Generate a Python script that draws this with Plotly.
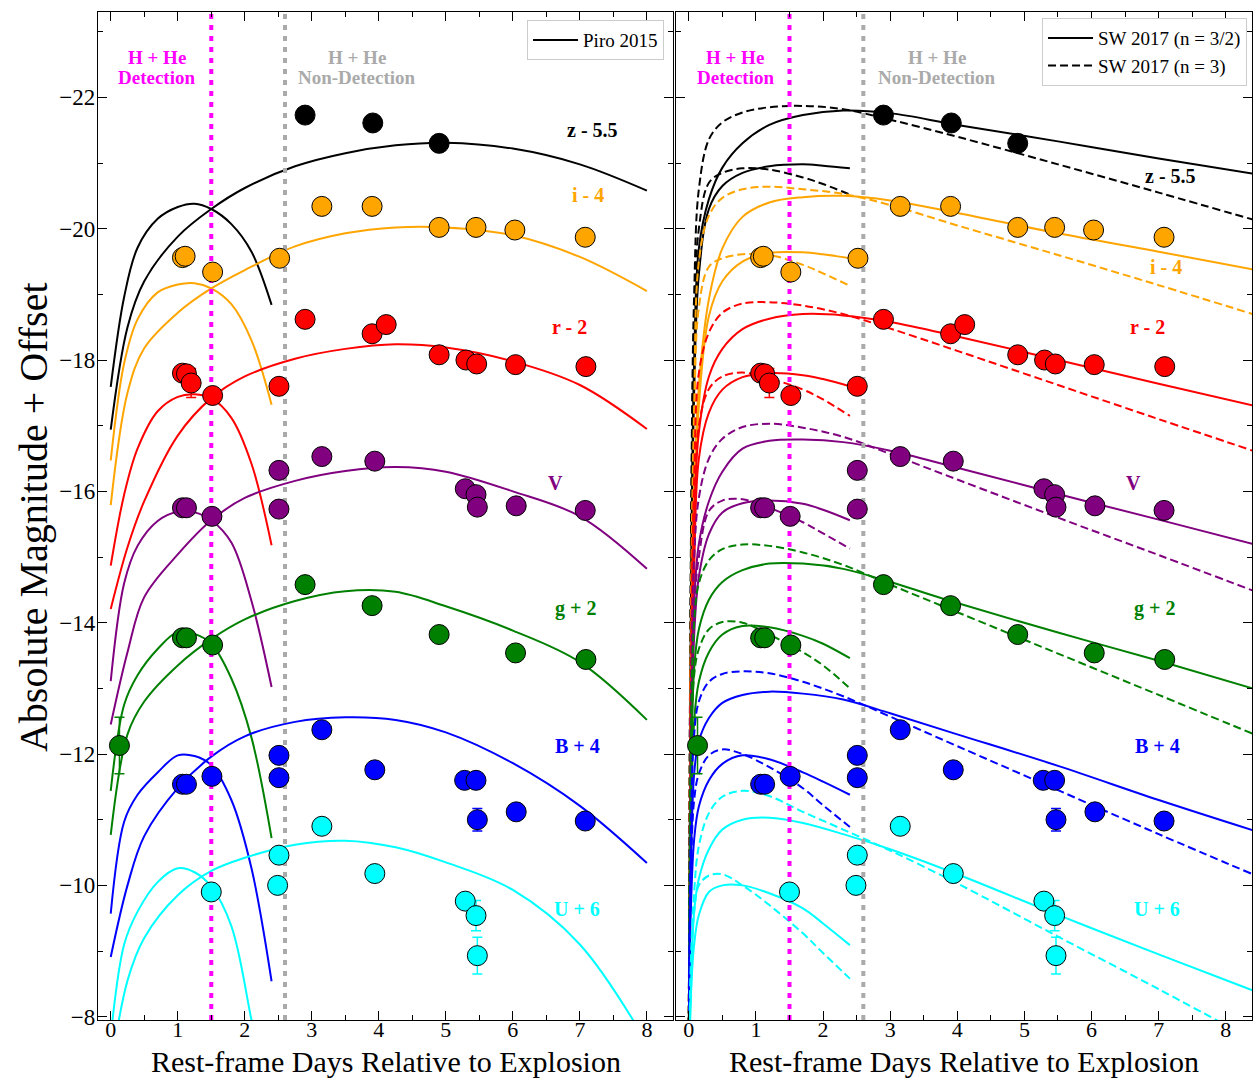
import plotly.graph_objects as go

# ---------------- data: observed photometry (rest-frame days, abs. mag + offset) ----------------
BANDS = ["z", "i", "r", "V", "g", "B", "U"]
COLORS = {"z": "black", "i": "#FFA500", "r": "#FF0000", "V": "#800080",
          "g": "#008000", "B": "#0000FF", "U": "#00FFFF"}
LABELS = {"z": "z - 5.5", "i": "i - 4", "r": "r - 2", "V": "V",
          "g": "g + 2", "B": "B + 4", "U": "U + 6"}

obs_z_t = [2.90, 3.91, 4.90]
obs_z_m = [-21.73, -21.61, -21.30]
obs_z_e = [0, 0, 0]

obs_i_t = [1.07, 1.11, 1.52, 2.52, 3.15, 3.90, 4.90, 5.45, 6.03, 7.08]
obs_i_m = [-19.56, -19.58, -19.34, -19.55, -20.34, -20.34, -20.02, -20.02, -19.98, -19.87]
obs_i_e = [0, 0, 0, 0, 0, 0, 0, 0, 0, 0]

obs_r_t = [1.07, 1.13, 1.20, 1.52, 2.51, 2.90, 3.90, 4.11, 4.90, 5.30, 5.46, 6.04, 7.09]
obs_r_m = [-17.80, -17.79, -17.65, -17.46, -17.60, -18.62, -18.40, -18.54, -18.08, -18.00, -17.94, -17.93, -17.90]
obs_r_e = [0, 0, 0.22, 0, 0, 0, 0, 0, 0, 0, 0, 0, 0]

obs_V_t = [1.07, 1.13, 1.51, 2.51, 2.51, 3.15, 3.94, 5.29, 5.45, 5.47, 6.05, 7.08]
obs_V_m = [-15.75, -15.75, -15.62, -16.32, -15.73, -16.53, -16.46, -16.04, -15.95, -15.76, -15.78, -15.71]
obs_V_e = [0, 0, 0, 0, 0, 0, 0, 0, 0, 0, 0, 0]

obs_g_t = [0.13, 1.07, 1.13, 1.52, 2.90, 3.90, 4.90, 6.04, 7.09]
obs_g_m = [-12.13, -13.77, -13.77, -13.66, -14.58, -14.26, -13.82, -13.54, -13.44]
obs_g_e = [0.43, 0, 0, 0, 0, 0, 0, 0, 0]

obs_B_t = [1.07, 1.13, 1.51, 2.51, 2.51, 3.15, 3.94, 5.28, 5.45, 5.47, 6.05, 7.08]
obs_B_m = [-11.54, -11.54, -11.66, -11.98, -11.64, -12.37, -11.76, -11.60, -11.60, -11.00, -11.12, -10.98]
obs_B_e = [0, 0, 0, 0, 0, 0, 0, 0, 0, 0.17, 0, 0]

obs_U_t = [1.50, 2.51, 2.49, 3.15, 3.94, 5.29, 5.45, 5.47]
obs_U_m = [-9.90, -10.46, -10.00, -10.90, -10.18, -9.76, -9.54, -8.93]
obs_U_e = [0, 0, 0, 0, 0, 0, 0.23, 0.28]

# ---------------- Piro 2015 model curves (left panel) ----------------
PIRO_EARLY_T = [0.0, 0.2, 0.4, 0.7, 1.0, 1.25, 1.5, 1.8, 2.1, 2.4]
piro_early_z = [-17.59, -18.96, -19.71, -20.15, -20.33, -20.38, -20.30, -20.07, -19.65, -18.84]
piro_early_i = [-16.47, -17.95, -18.62, -19.03, -19.15, -19.17, -19.09, -18.85, -18.30, -17.32]
piro_early_r = [-14.87, -15.95, -16.65, -17.22, -17.44, -17.48, -17.42, -17.12, -16.42, -15.18]
piro_early_V = [-13.11, -14.60, -15.17, -15.55, -15.69, -15.68, -15.56, -15.22, -14.33, -13.02]
piro_early_g = [-11.44, -12.75, -13.20, -13.60, -13.86, -13.83, -13.68, -13.15, -12.25, -10.72]
piro_early_B = [-9.57, -10.97, -11.38, -11.72, -11.98, -11.97, -11.83, -11.30, -10.26, -8.54]
piro_early_U = [-7.70, -9.10, -9.60, -10.05, -10.26, -10.20, -9.98, -9.38, -7.95, -6.40]

PIRO_EXT_T = [0.0, 0.25, 0.5, 1.0, 1.5, 2.0, 2.75, 3.5, 4.25, 5.0, 6.0, 7.0, 8.0]
piro_ext_z = [-16.94, -18.50, -19.20, -19.88, -20.30, -20.62, -20.95, -21.15, -21.27, -21.31, -21.22, -20.98, -20.58]
piro_ext_i = [-15.79, -17.50, -18.18, -18.72, -19.09, -19.37, -19.73, -19.93, -20.02, -20.02, -19.90, -19.57, -19.05]
piro_ext_r = [-14.21, -15.15, -15.85, -16.85, -17.42, -17.75, -18.02, -18.17, -18.24, -18.19, -17.98, -17.62, -16.95]
piro_ext_V = [-12.45, -13.55, -14.39, -15.04, -15.56, -15.90, -16.16, -16.31, -16.37, -16.30, -16.00, -15.62, -14.82]
piro_ext_g = [-10.77, -12.30, -12.80, -13.35, -13.75, -14.05, -14.33, -14.48, -14.47, -14.25, -13.88, -13.40, -12.52]
piro_ext_B = [-8.91, -10.00, -10.75, -11.48, -11.96, -12.27, -12.49, -12.56, -12.52, -12.33, -11.86, -11.21, -10.34]
piro_ext_U = [-7.20, -8.55, -9.20, -9.85, -10.22, -10.42, -10.62, -10.68, -10.58, -10.35, -9.93, -9.10, -7.60]

# ---------------- SW 2017 model curves (right panel) ----------------
SW_EARLY_T = [0.0, 0.03, 0.08, 0.15, 0.3, 0.5, 0.8, 1.2, 1.7, 2.0, 2.4]
sw_solid_early_z = [-7.5, -13.5, -17.5, -19.3, -20.30, -20.65, -20.85, -20.95, -20.98, -20.96, -20.92]
sw_solid_early_i = [-7.5, -12.5, -15.5, -17.3, -18.67, -19.20, -19.50, -19.63, -19.64, -19.61, -19.55]
sw_solid_early_r = [-7.5, -11.5, -14.8, -16.5, -17.20, -17.55, -17.74, -17.80, -17.77, -17.71, -17.60]
sw_solid_early_V = [-7.5, -11.2, -13.8, -14.7, -15.35, -15.68, -15.82, -15.86, -15.81, -15.72, -15.56]
sw_solid_early_g = [-7.5, -10.8, -12.5, -13.1, -13.55, -13.82, -13.95, -13.93, -13.80, -13.68, -13.46]
sw_solid_early_B = [-7.5, -9.6, -10.7, -11.2, -11.60, -11.85, -11.98, -11.92, -11.72, -11.58, -11.38]
sw_solid_early_U = [-7.0, -8.3, -9.1, -9.55, -9.90, -10.00, -10.00, -9.88, -9.65, -9.42, -9.09]

sw_dash_early_z = [-7.5, -14.5, -18.5, -20.0, -20.70, -20.85, -20.92, -20.90, -20.78, -20.68, -20.52]
sw_dash_early_i = [-7.5, -13.3, -16.8, -18.8, -19.42, -19.55, -19.61, -19.60, -19.45, -19.32, -19.13]
sw_dash_early_r = [-7.5, -12.3, -15.8, -17.0, -17.56, -17.75, -17.81, -17.72, -17.55, -17.40, -17.15]
sw_dash_early_V = [-7.5, -12.0, -14.2, -15.0, -15.70, -15.86, -15.88, -15.75, -15.53, -15.36, -15.13]
sw_dash_early_g = [-7.5, -11.6, -13.2, -13.6, -13.90, -14.01, -14.00, -13.82, -13.55, -13.35, -13.00]
sw_dash_early_B = [-7.5, -10.1, -11.3, -11.7, -11.98, -12.07, -12.00, -11.80, -11.48, -11.22, -10.89]
sw_dash_early_U = [-7.0, -8.6, -9.6, -10.0, -10.15, -10.17, -10.00, -9.70, -9.27, -8.97, -8.58]

SW_EXT_T = [0.0, 0.03, 0.08, 0.15, 0.3, 0.5, 0.8, 1.2, 1.7, 2.3, 3.0, 4.0, 5.5, 7.0, 8.4]
sw_solid_ext_z = [-7.5, -14.0, -18.0, -19.7, -20.45, -20.93, -21.30, -21.58, -21.73, -21.80, -21.76, -21.58, -21.33, -21.07, -20.84]
sw_solid_ext_i = [-7.5, -13.0, -16.0, -17.6, -18.93, -19.70, -20.18, -20.40, -20.48, -20.50, -20.43, -20.24, -19.93, -19.65, -19.38]
sw_solid_ext_r = [-7.5, -12.5, -15.6, -16.9, -17.75, -18.17, -18.47, -18.63, -18.70, -18.68, -18.58, -18.36, -18.00, -17.64, -17.31]
sw_solid_ext_V = [-7.5, -12.0, -14.3, -15.2, -15.85, -16.30, -16.65, -16.77, -16.79, -16.75, -16.62, -16.36, -15.96, -15.57, -15.20]
sw_solid_ext_g = [-7.5, -11.4, -13.3, -13.9, -14.35, -14.62, -14.80, -14.90, -14.90, -14.82, -14.62, -14.30, -13.85, -13.42, -13.00]
sw_solid_ext_B = [-7.5, -10.2, -11.7, -12.2, -12.55, -12.78, -12.90, -12.95, -12.92, -12.83, -12.62, -12.30, -11.82, -11.30, -10.84]
sw_solid_ext_U = [-7.0, -8.3, -9.6, -10.1, -10.55, -10.85, -11.00, -11.03, -10.95, -10.78, -10.55, -10.17, -9.55, -8.95, -8.40]

sw_dash_ext_z = [-7.5, -15.0, -19.0, -20.6, -21.36, -21.62, -21.77, -21.85, -21.87, -21.82, -21.66, -21.40, -20.98, -20.55, -20.14]
sw_dash_ext_i = [-7.5, -14.0, -17.3, -19.5, -20.20, -20.47, -20.60, -20.64, -20.60, -20.53, -20.36, -20.05, -19.60, -19.14, -18.70]
sw_dash_ext_r = [-7.5, -13.3, -16.2, -17.8, -18.42, -18.72, -18.86, -18.88, -18.83, -18.70, -18.48, -18.14, -17.62, -17.10, -16.62]
sw_dash_ext_V = [-7.5, -12.8, -15.0, -15.9, -16.50, -16.80, -16.98, -17.03, -16.97, -16.83, -16.57, -16.18, -15.60, -15.03, -14.49]
sw_dash_ext_g = [-7.5, -12.2, -14.0, -14.6, -14.95, -15.12, -15.19, -15.17, -15.07, -14.88, -14.58, -14.16, -13.53, -12.90, -12.31]
sw_dash_ext_B = [-7.5, -10.8, -12.3, -12.8, -13.10, -13.22, -13.26, -13.23, -13.10, -12.88, -12.57, -12.12, -11.45, -10.78, -10.17]
sw_dash_ext_U = [-7.0, -8.8, -9.9, -10.6, -11.10, -11.35, -11.44, -11.36, -11.12, -10.85, -10.53, -10.03, -9.22, -8.42, -7.65]

# vertical markers, axis ranges and ticks
VLINE_DETECT = 1.5
VLINE_NONDETECT = 2.6
X_RANGE = [-0.19, 8.39]
Y_RANGE = [-7.95, -23.3]
X_TICKS = [0, 1, 2, 3, 4, 5, 6, 7, 8]
Y_TICKS = [-22, -20, -18, -16, -14, -12, -10, -8]

# label positions (data coords) for band labels
label_left_pos = {"z": (7.19, -21.51), "i": (7.12, -20.51), "r": (6.84, -18.50), "V": (6.64, -16.13),
                  "g": (6.94, -14.21), "B": (6.96, -12.13), "U": (6.96, -9.64)}
label_right_pos = {"z": (7.17, -20.81), "i": (7.11, -19.41), "r": (6.83, -18.50), "V": (6.63, -16.13),
                   "g": (6.94, -14.21), "B": (6.98, -12.13), "U": (6.98, -9.64)}

obs = {b: (globals()[f"obs_{b}_t"], globals()[f"obs_{b}_m"], globals()[f"obs_{b}_e"]) for b in BANDS}

FONT = "Liberation Serif"
fig = go.Figure()
SMOOTH = 1.0
DASH = "8px,4px"

# left panel: Piro curves
for b in BANDS:
    for t, m in ((PIRO_EARLY_T, globals()[f"piro_early_{b}"]), (PIRO_EXT_T, globals()[f"piro_ext_{b}"])):
        fig.add_trace(go.Scatter(x=t, y=m, mode="lines", xaxis="x", yaxis="y",
                                 line=dict(color=COLORS[b], width=2, shape="spline", smoothing=SMOOTH),
                                 showlegend=False, hoverinfo="skip"))
# right panel: SW curves
for b in BANDS:
    for kind, dash in (("solid", "solid"), ("dash", DASH)):
        for t, key in ((SW_EARLY_T, "early"), (SW_EXT_T, "ext")):
            m = globals()[f"sw_{kind}_{key}_{b}"]
            fig.add_trace(go.Scatter(x=t, y=m, mode="lines", xaxis="x2", yaxis="y2",
                                     line=dict(color=COLORS[b], width=2, dash=dash, shape="spline", smoothing=SMOOTH),
                                     showlegend=False, hoverinfo="skip"))

# vertical dotted lines
for xa, ya in (("x", "y"), ("x2", "y2")):
    for xv, col in ((VLINE_DETECT, "#FF00FF"), (VLINE_NONDETECT, "#AAAAAA")):
        fig.add_trace(go.Scatter(x=[xv, xv], y=Y_RANGE, mode="lines", xaxis=xa, yaxis=ya,
                                 line=dict(color=col, width=4, dash="5px,6px"),
                                 showlegend=False, hoverinfo="skip"))

# observations
for xa, ya in (("x", "y"), ("x2", "y2")):
    for b in BANDS:
        t, m, e = obs[b]
        fig.add_trace(go.Scatter(x=t, y=m, mode="markers", xaxis=xa, yaxis=ya,
                                 marker=dict(size=20, color=COLORS[b], line=dict(color="black", width=1)),
                                 error_y=dict(type="data", array=e, visible=True, color=COLORS[b],
                                              thickness=1.5, width=5),
                                 showlegend=False, hoverinfo="skip"))

# legend entries
fig.add_trace(go.Scatter(x=[None], y=[None], mode="lines", xaxis="x", yaxis="y",
                         line=dict(color="black", width=2), name="Piro 2015", legend="legend"))
fig.add_trace(go.Scatter(x=[None], y=[None], mode="lines", xaxis="x2", yaxis="y2",
                         line=dict(color="black", width=2), name="SW 2017 (n = 3/2)", legend="legend2"))
fig.add_trace(go.Scatter(x=[None], y=[None], mode="lines", xaxis="x2", yaxis="y2",
                         line=dict(color="black", width=2, dash=DASH), name="SW 2017 (n = 3)", legend="legend2"))

annotations = []
for xa, pos in (("x", label_left_pos), ("x2", label_right_pos)):
    for b in BANDS:
        annotations.append(dict(x=pos[b][0], y=pos[b][1], xref=xa, yref="y", text=f"<b>{LABELS[b]}</b>",
                                showarrow=False, font=dict(family=FONT, size=20, color=COLORS[b])))
for xa, xd, xn in (("x", 0.69, 3.67), ("x2", 0.69, 3.70)):
    for txt, xx, col in (("H + He", xd, "#FF00FF"), ("Detection", xd, "#FF00FF"),
                         ("H + He", xn, "#AAAAAA"), ("Non-Detection", xn, "#AAAAAA")):
        yy = -22.61 if txt == "H + He" else -22.30
        annotations.append(dict(x=xx, y=yy, xref=xa, yref="y", text=f"<b>{txt}</b>",
                                showarrow=False, font=dict(family=FONT, size=19, color=col)))
for xd in ("x domain", "x2 domain"):
    annotations.append(dict(x=0.5, y=-0.0407, xref=xd, yref="paper", xanchor="center", yanchor="middle",
                            text="Rest-frame Days Relative to Explosion", showarrow=False,
                            font=dict(family=FONT, size=30, color="black")))
annotations.append(dict(x=-0.0563, y=0.499, xref="paper", yref="paper", xanchor="center", yanchor="middle",
                        textangle=-90, text="Absolute Magnitude + Offset", showarrow=False,
                        font=dict(family=FONT, size=40, color="black")))

xcommon = dict(range=X_RANGE, tickmode="array", tickvals=X_TICKS, ticks="inside", ticklen=9, tickwidth=1,
               tickcolor="black", showline=True, linecolor="black", linewidth=1.2, mirror="ticks",
               showgrid=False, zeroline=False, tickfont=dict(family=FONT, size=22, color="black"),
               ticklabelstandoff=-11,
               minor=dict(ticks="inside", ticklen=5, tickwidth=1, tickcolor="black", dtick=0.5, tick0=0,
                          showgrid=False))
ycommon = dict(range=Y_RANGE, tickmode="array", tickvals=Y_TICKS, ticks="inside", ticklen=9, tickwidth=1,
               tickcolor="black", showline=True, linecolor="black", linewidth=1.2, mirror="ticks",
               showgrid=False, zeroline=False, tickfont=dict(family=FONT, size=23, color="black"),
               ticklabelstandoff=-3,
               minor=dict(ticks="inside", ticklen=5, tickwidth=1, tickcolor="black", dtick=1, tick0=0,
                          showgrid=False))

legend_style = dict(bgcolor="white", bordercolor="#CCCCCC", borderwidth=1, itemwidth=45,
                    font=dict(family=FONT, size=19, color="black"), xanchor="right", yanchor="top")

fig.update_layout(
    width=1254, height=1078, margin=dict(l=98, r=2, t=12, b=58),
    paper_bgcolor="white", plot_bgcolor="white",
    xaxis=dict(domain=[0, 0.4983], anchor="y", **xcommon),
    xaxis2=dict(domain=[0.5009, 1.0], anchor="y2", **xcommon),
    yaxis=dict(domain=[0, 1], anchor="x", **ycommon),
    yaxis2=dict(domain=[0, 1], anchor="x2", matches="y", showticklabels=False, **ycommon),
    legend=dict(x=0.4905, y=0.992, **legend_style),
    legend2=dict(x=0.9957, y=0.994, **legend_style),
    annotations=annotations,
)

fig.write_html("out.html")
